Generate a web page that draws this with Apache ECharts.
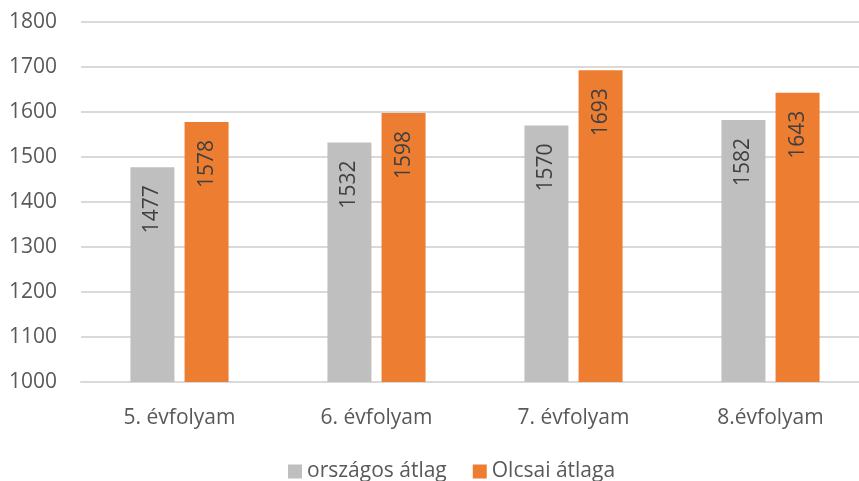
<!DOCTYPE html>
<html>
<head>
<meta charset="utf-8">
<script src="https://cdn.jsdelivr.net/npm/echarts@6/dist/echarts.min.js"></script>
<style>
  html, body { margin: 0; padding: 0; background: #fff; }
  #chart { width: 859px; height: 481px; }
</style>
</head>
<body>
<div id="chart"></div>
<script>
  // évfolyamok
  const categories = ['5. évfolyam', '6. évfolyam', '7. évfolyam', '8.évfolyam'];
  const seriesNames = ['országos átlag', 'Olcsai átlaga'];
  const orszagos = [1477, 1532, 1570, 1582];
  const olcsai = [1578, 1598, 1693, 1643];

  const chart = echarts.init(document.getElementById('chart'));

  // felirat a oszlop tetején, elforgatva
  const barLabel = {
    show: true,
    position: 'insideTop',
    rotate: 90,
    align: 'right',
    verticalAlign: 'middle',
    distance: 18,
    color: '#404040',
    fontSize: 21,
    fontFamily: 'Open Sans'
  };

  chart.setOption({
    animation: false,
    textStyle: { fontFamily: 'Open Sans' },
    grid: {
      left: 81,
      width: 788,
      top: 22,
      bottom: 99,
      outerBoundsMode: 'none'
    },
    legend: {
      data: seriesNames,
      top: 456,
      left: 283,
      icon: 'rect',
      itemWidth: 14,
      itemHeight: 14,
      itemGap: 26,
      textStyle: { color: '#595959', fontSize: 21, fontFamily: 'Open Sans' }
    },
    xAxis: {
      type: 'category',
      data: categories,
      axisLine: { lineStyle: { color: '#D9D9D9', width: 2 } },
      axisTick: { show: false },
      axisLabel: { color: '#595959', fontSize: 21, margin: 26 }
    },
    yAxis: {
      type: 'value',
      min: 1000,
      max: 1800,
      interval: 100,
      axisLine: { show: false },
      axisTick: { show: false },
      axisLabel: { color: '#595959', fontSize: 21, margin: 24, formatter: v => String(v) },
      splitLine: { lineStyle: { color: '#D9D9D9', width: 2 } }
    },
    series: [
      {
        name: seriesNames[0],
        type: 'bar',
        data: orszagos,
        barWidth: 44,
        barGap: '23%',
        itemStyle: { color: '#BFBFBF' },
        label: barLabel
      },
      {
        name: seriesNames[1],
        type: 'bar',
        data: olcsai,
        barWidth: 44,
        itemStyle: { color: '#ED7D31' },
        label: barLabel
      }
    ]
  });
</script>
</body>
</html>
